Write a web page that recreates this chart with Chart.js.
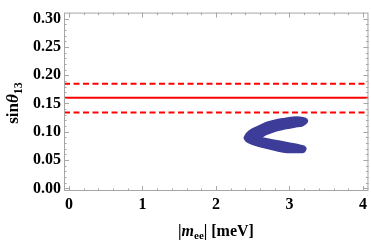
<!DOCTYPE html>
<html>
<head>
<meta charset="utf-8">
<script src="https://cdn.jsdelivr.net/npm/chart.js@4/dist/chart.umd.min.js"></script>
<style>
  html, body { margin: 0; padding: 0; background: #fff; }
  #wrap { width: 371px; height: 244px; }
</style>
</head>
<body>
<div id="wrap"><canvas id="c" width="371" height="244"></canvas></div>
<script>
// ----- data -----
const xTicks = [0, 1, 2, 3, 4];
const xTickLabels = ['0', '1', '2', '3', '4'];
const yTicks = [0.00, 0.05, 0.10, 0.15, 0.20, 0.25, 0.30];
const yTickLabels = ['0.00', '0.05', '0.10', '0.15', '0.20', '0.25', '0.30'];

// allowed region (outline of the blue band), |m_ee| in meV
const regionX = [2.381, 2.422, 2.490, 2.599, 2.707, 2.830, 2.939, 3.048, 3.143, 3.211, 3.245, 3.224, 3.170, 3.075, 2.939, 2.803, 2.680, 2.626,
                 2.735, 2.871, 3.007, 3.143, 3.197, 3.224, 3.197, 3.102, 2.966, 2.844, 2.707, 2.571, 2.463, 2.408, 2.381];
const regionY = [0.0891, 0.0977, 0.1045, 0.1113, 0.1173, 0.1215, 0.1237, 0.1258, 0.1258, 0.1241, 0.1198, 0.1147, 0.1104, 0.1087, 0.1053, 0.1011, 0.0951, 0.0900,
                 0.0866, 0.0832, 0.0798, 0.0764, 0.0747, 0.0704, 0.0644, 0.0636, 0.0636, 0.0661, 0.0704, 0.0747, 0.0798, 0.0840, 0.0891];

// experimental sin(theta13): best fit and range
const bestFit = 0.160;
const rangeLow = 0.134;
const rangeHigh = 0.185;

// axis ranges
const xRange = [-0.068, 4.075];
const yRange = [-0.0045, 0.3105];

// ----- chart -----
const serif = '"Liberation Serif", "Times New Roman", serif';
const blue = 'rgb(61,61,153)';
const red = 'rgb(255,0,0)';

function hLine(y) { return xRange.map(x => ({ x: x, y: y })); }

const framePlugin = {
  id: 'frame',
  afterDatasetsDraw(chart) {
    const ctx = chart.ctx;
    const a = chart.chartArea;
    const xs = chart.scales.x, ys = chart.scales.y;
    ctx.save();
    ctx.strokeStyle = '#a6a6a6';
    ctx.lineWidth = 1;
    ctx.strokeRect(a.left + 0.5, a.top + 0.5, a.right - a.left - 1, a.bottom - a.top - 1);
    function xt(v, len) {
      const p = Math.round(xs.getPixelForValue(v)) + 0.5;
      ctx.beginPath();
      ctx.moveTo(p, a.bottom); ctx.lineTo(p, a.bottom - len);
      ctx.moveTo(p, a.top); ctx.lineTo(p, a.top + len);
      ctx.stroke();
    }
    function yt(v, len) {
      const p = Math.round(ys.getPixelForValue(v)) + 0.5;
      ctx.beginPath();
      ctx.moveTo(a.left, p); ctx.lineTo(a.left + len, p);
      ctx.moveTo(a.right, p); ctx.lineTo(a.right - len, p);
      ctx.stroke();
    }
    for (let i = 0; i <= 20; i++) {
      const v = i * 0.2;
      xt(v, (i % 5 === 0) ? 5 : 2.5);
    }
    for (let i = 0; i <= 30; i++) {
      const v = i * 0.01;
      yt(v, (i % 5 === 0) ? 5 : 2.5);
    }
    ctx.restore();

    // axis titles with subscripts
    ctx.save();
    ctx.fillStyle = '#000';
    // x title: |m_ee| [meV]
    const fMain = 'bold 16px ' + serif;
    const fItal = 'italic bold 16px ' + serif;
    const fSub = 'bold 11px ' + serif;
    const parts = [
      { t: '|', f: fMain, dy: 0 },
      { t: 'm', f: fItal, dy: 0 },
      { t: 'ee', f: fSub, dy: 3 },
      { t: '| [meV]', f: fMain, dy: 0 }
    ];
    let w = 0;
    parts.forEach(p => { ctx.font = p.f; p.w = ctx.measureText(p.t).width; w += p.w; });
    let x0 = (xs.getPixelForValue(2)) - w / 2;
    const base = 236;
    ctx.textBaseline = 'alphabetic';
    parts.forEach(p => { ctx.font = p.f; ctx.fillText(p.t, x0, base + p.dy); x0 += p.w; });

    // y title: sin(theta)_13
    ctx.translate(18, 103);
    ctx.rotate(-Math.PI / 2);
    const yparts = [
      { t: 'sin', f: 'bold 17px ' + serif, dy: 0 },
      { t: 'θ', f: 'italic bold 17px ' + serif, dy: 0 },
      { t: '13', f: 'bold 12px ' + serif, dy: 4 }
    ];
    w = 0;
    yparts.forEach(p => { ctx.font = p.f; p.w = ctx.measureText(p.t).width; w += p.w; });
    x0 = -w / 2;
    yparts.forEach(p => { ctx.font = p.f; ctx.fillText(p.t, x0, p.dy); x0 += p.w; });
    ctx.restore();
  }
};

new Chart(document.getElementById('c'), {
  type: 'line',
  data: {
    datasets: [
      {
        label: 'region',
        data: regionX.map((x, i) => ({ x: x, y: regionY[i] })),
        borderColor: blue,
        backgroundColor: blue,
        borderWidth: 1.5,
        pointRadius: 0,
        tension: 0.3,
        fill: 'shape'
      },
      {
        label: 'best fit',
        data: hLine(bestFit),
        borderColor: red,
        borderWidth: 2,
        pointRadius: 0,
        fill: false
      },
      {
        label: 'high',
        data: hLine(rangeHigh),
        borderColor: red,
        borderWidth: 2,
        borderDash: [6, 3.5],
        pointRadius: 0,
        fill: false
      },
      {
        label: 'low',
        data: hLine(rangeLow),
        borderColor: red,
        borderWidth: 2,
        borderDash: [6, 3.5],
        pointRadius: 0,
        fill: false
      }
    ]
  },
  options: {
    responsive: false,
    animation: false,
    events: [],
    layout: { padding: { left: 0, right: 2.5, top: 7.5, bottom: 0 } },
    plugins: { legend: { display: false }, tooltip: { enabled: false } },
    scales: {
      x: {
        type: 'linear',
        min: xRange[0],
        max: xRange[1],
        grid: { display: false, drawTicks: false },
        border: { display: false },
        afterBuildTicks: s => { s.ticks = xTicks.map(v => ({ value: v })); },
        afterFit: s => { s.height = 53; },
        ticks: {
          padding: 4,
          color: '#000',
          font: { family: serif, size: 16, weight: 'bold' },
          callback: (v) => { const i = xTicks.indexOf(v); return i >= 0 ? xTickLabels[i] : ''; }
        }
      },
      y: {
        type: 'linear',
        min: yRange[0],
        max: yRange[1],
        grid: { display: false, drawTicks: false },
        border: { display: false },
        afterBuildTicks: s => { s.ticks = yTicks.map(v => ({ value: v })); },
        afterFit: s => { s.width = 64; },
        ticks: {
          padding: 3,
          color: '#000',
          font: { family: serif, size: 16, weight: 'bold' },
          callback: (v) => { const i = yTicks.findIndex(t => Math.abs(t - v) < 1e-9); return i >= 0 ? yTickLabels[i] : ''; }
        }
      }
    }
  },
  plugins: [framePlugin]
});
</script>
</body>
</html>
